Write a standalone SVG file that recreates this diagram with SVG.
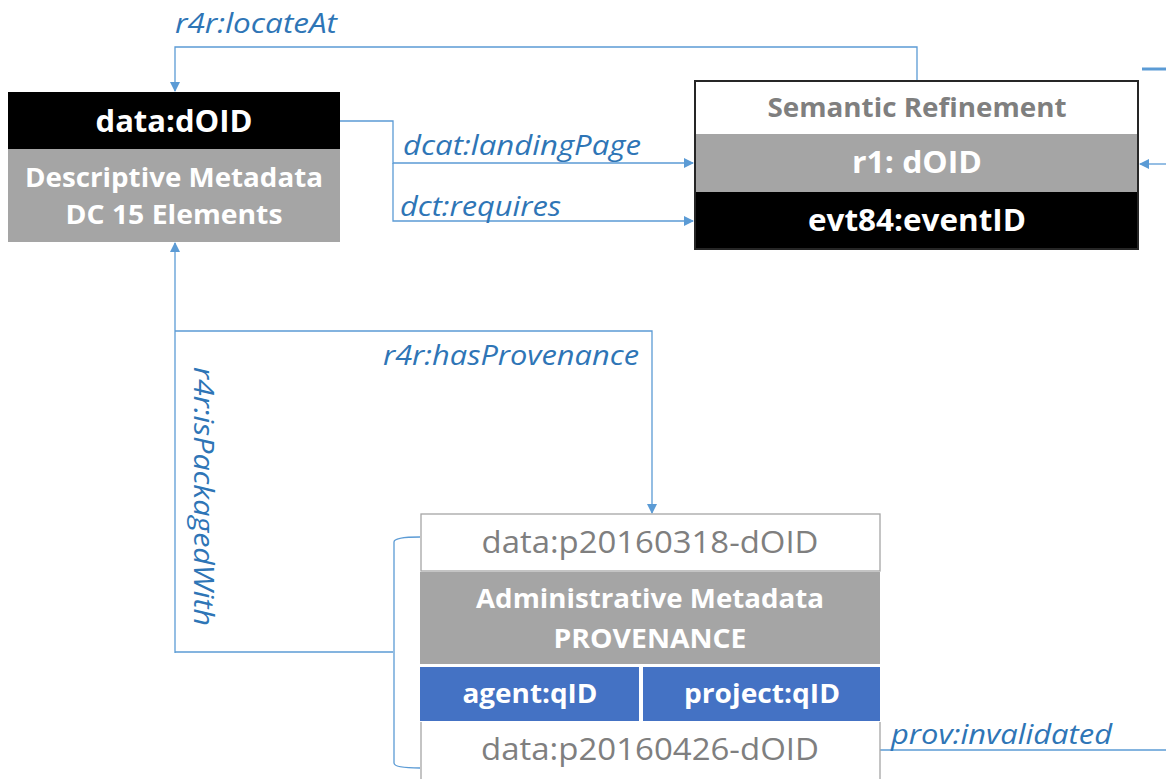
<svg xmlns="http://www.w3.org/2000/svg" width="1166" height="779" viewBox="0 0 1166 779">
<defs>
<marker id="ah" markerWidth="10" markerHeight="10" refX="9" refY="5" orient="auto" markerUnits="userSpaceOnUse"><path d="M0,0 L10,5 L0,10 z" fill="#5B9BD5"/></marker>
<style>
.c{fill:none;stroke:#5B9BD5;stroke-width:1.3}
.lbl{font-family:"Open Sans","Noto Sans",sans-serif;font-style:italic;font-size:27px;fill:#2E75B6}
.wb{font-family:"Open Sans","Noto Sans",sans-serif;font-weight:bold;fill:#FFFFFF;text-anchor:middle}
.gr{font-family:"Open Sans","Noto Sans",sans-serif;fill:#7F7F7F;text-anchor:middle}
</style>
</defs>
<rect width="1166" height="779" fill="#FFFFFF"/>
<g id="connectors">
<path class="c" d="M917,80 V47 H175 V91" marker-end="url(#ah)"/>
<path class="c" d="M340,121 H393 V163 H693" marker-end="url(#ah)"/>
<path class="c" d="M393,163 V221 H693" marker-end="url(#ah)"/>
<path class="c" d="M1166,164 H1140" marker-end="url(#ah)"/>
<path d="M1142,69 H1166" stroke="#5B9BD5" stroke-width="3" fill="none"/>
<path class="c" d="M175,653 V243" marker-end="url(#ah)"/>
<path class="c" d="M175,331 H652 V513" marker-end="url(#ah)"/>
<path class="c" d="M175,652 H393"/>
<path class="c" d="M420,537 Q394,537 394,542 V763 Q394,768 420,768"/>
<path class="c" d="M880,750 H1166"/>
<text class="lbl" x="175" y="33" textLength="162" lengthAdjust="spacingAndGlyphs">r4r:locateAt</text>
<text class="lbl" x="403" y="155" textLength="238" lengthAdjust="spacingAndGlyphs">dcat:landingPage</text>
<text class="lbl" x="400" y="216" textLength="161" lengthAdjust="spacingAndGlyphs">dct:requires</text>
<text class="lbl" x="383" y="365" textLength="256" lengthAdjust="spacingAndGlyphs">r4r:hasProvenance</text>
<text class="lbl" transform="translate(194,367) rotate(90)" textLength="259" lengthAdjust="spacingAndGlyphs">r4r:isPackagedWith</text>
<text class="lbl" x="891" y="744" textLength="221" lengthAdjust="spacingAndGlyphs">prov:invalidated</text>
</g>
<g id="node-data-doid">
<rect x="8" y="92" width="332" height="57" fill="#000000"/>
<rect x="8" y="149" width="332" height="93" fill="#A5A5A5"/>
<text class="wb" x="174" y="132" font-size="30" textLength="157" lengthAdjust="spacingAndGlyphs">data:dOID</text>
<text class="wb" x="174" y="187" font-size="27" textLength="298" lengthAdjust="spacingAndGlyphs">Descriptive Metadata</text>
<text class="wb" x="174" y="224" font-size="27" textLength="217" lengthAdjust="spacingAndGlyphs">DC 15 Elements</text>
</g>
<g id="node-semantic">
<rect x="695" y="81" width="443" height="53" fill="#FFFFFF"/>
<rect x="695" y="134" width="443" height="58" fill="#A5A5A5"/>
<rect x="695" y="192" width="443" height="57" fill="#000000"/>
<rect x="695" y="81" width="443" height="168" fill="none" stroke="#262626" stroke-width="2"/>
<text class="gr" x="917" y="117" font-size="27" font-weight="bold" textLength="299" lengthAdjust="spacingAndGlyphs">Semantic Refinement</text>
<text class="wb" x="917" y="173" font-size="31" textLength="130" lengthAdjust="spacingAndGlyphs">r1: dOID</text>
<text class="wb" x="917" y="231" font-size="31" textLength="218" lengthAdjust="spacingAndGlyphs">evt84:eventID</text>
</g>
<g id="node-provenance">
<rect x="421" y="514" width="459" height="57" fill="#FFFFFF" stroke="#A5A5A5" stroke-width="1.3"/>
<rect x="420" y="572" width="460" height="92" fill="#A5A5A5"/>
<rect x="420" y="667" width="219" height="54" fill="#4472C4"/>
<rect x="643" y="667" width="237" height="54" fill="#4472C4"/>
<path d="M421,722 V779 M880,722 V779" stroke="#A5A5A5" stroke-width="1.3" fill="none"/>
<text class="gr" x="650" y="553" font-size="31" textLength="337" lengthAdjust="spacingAndGlyphs">data:p20160318-dOID</text>
<text class="wb" x="650" y="608" font-size="27" textLength="348" lengthAdjust="spacingAndGlyphs">Administrative Metadata</text>
<text class="wb" x="650" y="648" font-size="27" textLength="193" lengthAdjust="spacingAndGlyphs">PROVENANCE</text>
<text class="wb" x="530" y="703" font-size="27" textLength="135" lengthAdjust="spacingAndGlyphs">agent:qID</text>
<text class="wb" x="762" y="703" font-size="27" textLength="156" lengthAdjust="spacingAndGlyphs">project:qID</text>
<text class="gr" x="650" y="760" font-size="31" textLength="338" lengthAdjust="spacingAndGlyphs">data:p20160426-dOID</text>
</g>
</svg>
